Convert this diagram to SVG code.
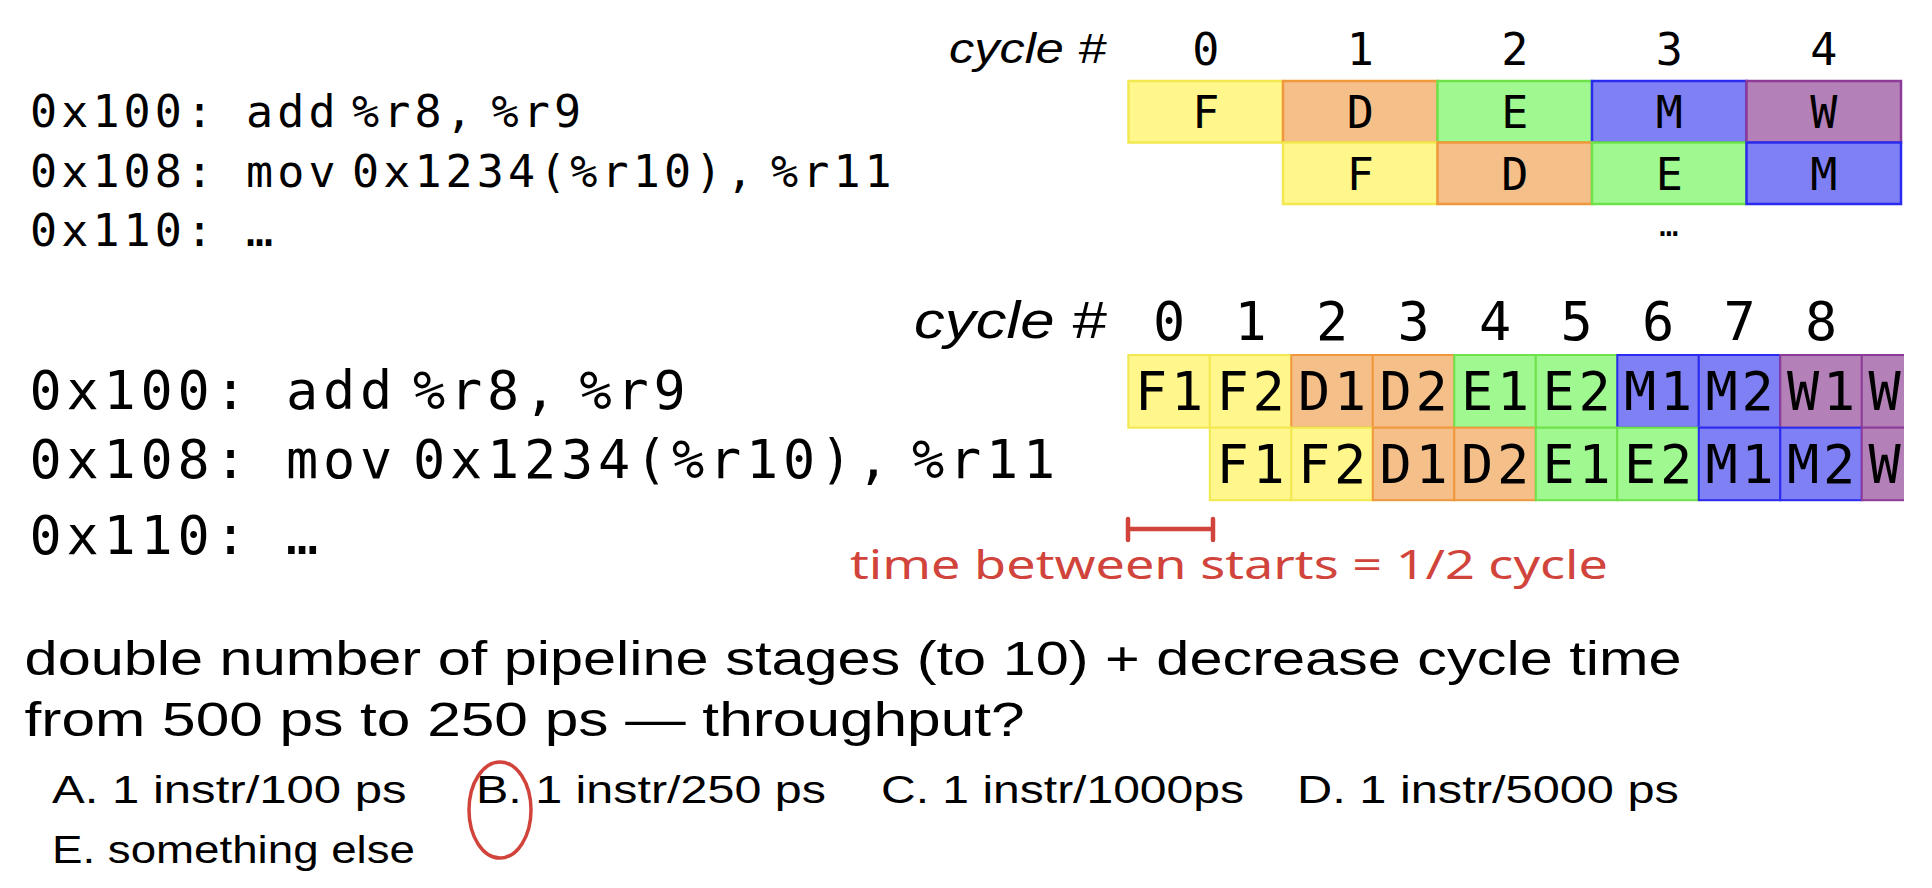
<svg xmlns="http://www.w3.org/2000/svg" width="1932" height="888" viewBox="0 0 1932 888">
<defs>
<style>
.mono{font-family:"DejaVu Sans Mono",monospace;fill:#000}
.mt{font-size:45px;letter-spacing:4.1px}
.mb{font-size:53.5px;letter-spacing:4.8px}
.num-t{font-size:45px;text-anchor:middle}
.num-b{font-size:53.5px;text-anchor:middle}
.cyc{font-family:"Liberation Sans",Arial,sans-serif;font-style:italic;fill:#000}
.sans{font-family:"Liberation Sans",Arial,sans-serif;fill:#000}
.box-t{stroke-width:2.5}
.box-b{stroke-width:2}
.Y{fill:#fff68c;stroke:#f2e850}
.O{fill:#f5bf8a;stroke:#f0983c}
.G{fill:#a0f890;stroke:#6de24a}
.B{fill:#8080f5;stroke:#2b2bf0}
.P{fill:#b480b8;stroke:#8c3c98}
.red{stroke:#d1443c;fill:none;stroke-linecap:round}
.redtxt{font-family:"Noto Sans","DejaVu Sans",sans-serif;fill:#d1443c}
</style>
<clipPath id="clipR"><rect x="0" y="0" width="1904" height="888"/></clipPath>
</defs>
<rect width="1932" height="888" fill="#fff"/>

<!-- top code -->
<g id="code-top" class="mono mt">
<text y="127"><tspan x="30">0x100:</tspan><tspan x="246">add</tspan><tspan x="352">%r8,</tspan><tspan x="491.5">%r9</tspan></text>
<text y="187"><tspan x="30">0x108:</tspan><tspan x="246">mov</tspan><tspan x="352">0x1234(%r10),</tspan><tspan x="771">%r11</tspan></text>
<text y="246"><tspan x="30">0x110:</tspan><tspan x="246">…</tspan></text>
</g>

<!-- top cycle header -->
<g id="header-top">
<text class="cyc" x="949" y="63" font-size="43" textLength="157" lengthAdjust="spacingAndGlyphs">cycle #</text>
<g class="mono num-t">
<text x="1205.75" y="65">0</text>
<text x="1360.25" y="65">1</text>
<text x="1514.75" y="65">2</text>
<text x="1669.25" y="65">3</text>
<text x="1823.75" y="65">4</text>
</g>
</g>

<!-- top pipeline rows -->
<g id="pipe-top-row1">
<rect class="box-t Y" x="1128.5" y="81" width="154.5" height="61.5"/>
<rect class="box-t O" x="1283" y="81" width="154.5" height="61.5"/>
<rect class="box-t G" x="1437.5" y="81" width="154.5" height="61.5"/>
<rect class="box-t B" x="1592" y="81" width="154.5" height="61.5"/>
<rect class="box-t P" x="1746.5" y="81" width="154.5" height="61.5"/>
<g class="mono num-t">
<text x="1205.75" y="128">F</text>
<text x="1360.25" y="128">D</text>
<text x="1514.75" y="128">E</text>
<text x="1669.25" y="128">M</text>
<text x="1823.75" y="128">W</text>
</g>
</g>
<g id="pipe-top-row2">
<rect class="box-t Y" x="1283" y="142.5" width="154.5" height="61.5"/>
<rect class="box-t O" x="1437.5" y="142.5" width="154.5" height="61.5"/>
<rect class="box-t G" x="1592" y="142.5" width="154.5" height="61.5"/>
<rect class="box-t B" x="1746.5" y="142.5" width="154.5" height="61.5"/>
<g class="mono num-t">
<text x="1360.25" y="189.5">F</text>
<text x="1514.75" y="189.5">D</text>
<text x="1669.25" y="189.5">E</text>
<text x="1823.75" y="189.5">M</text>
</g>
</g>
<text class="mono" x="1669" y="236" font-size="32" text-anchor="middle">…</text>

<!-- bottom code -->
<g id="code-bottom" class="mono mb">
<text y="409"><tspan x="29.5">0x100:</tspan><tspan x="286">add</tspan><tspan x="413">%r8,</tspan><tspan x="579.5">%r9</tspan></text>
<text y="478"><tspan x="29.5">0x108:</tspan><tspan x="286">mov</tspan><tspan x="413">0x1234(%r10),</tspan><tspan x="912">%r11</tspan></text>
<text y="554"><tspan x="29.5">0x110:</tspan><tspan x="286">…</tspan></text>
</g>

<!-- bottom cycle header -->
<g id="header-bottom">
<text class="cyc" x="914" y="338" font-size="52" textLength="192" lengthAdjust="spacingAndGlyphs">cycle #</text>
<g class="mono num-b">
<text x="1169" y="340">0</text>
<text x="1250.5" y="340">1</text>
<text x="1332" y="340">2</text>
<text x="1413.5" y="340">3</text>
<text x="1495" y="340">4</text>
<text x="1576.5" y="340">5</text>
<text x="1658" y="340">6</text>
<text x="1739.5" y="340">7</text>
<text x="1821" y="340">8</text>
</g>
</g>

<!-- bottom pipeline rows -->
<g id="pipe-bottom-row1">
<g clip-path="url(#clipR)">
<rect class="box-b Y" x="1128.3" y="355" width="81.5" height="72.7"/>
<rect class="box-b Y" x="1209.8" y="355" width="81.5" height="72.7"/>
<rect class="box-b O" x="1291.3" y="355" width="81.5" height="72.7"/>
<rect class="box-b O" x="1372.8" y="355" width="81.5" height="72.7"/>
<rect class="box-b G" x="1454.3" y="355" width="81.5" height="72.7"/>
<rect class="box-b G" x="1535.8" y="355" width="81.5" height="72.7"/>
<rect class="box-b B" x="1617.3" y="355" width="81.5" height="72.7"/>
<rect class="box-b B" x="1698.8" y="355" width="81.5" height="72.7"/>
<rect class="box-b P" x="1780.3" y="355" width="81.5" height="72.7"/>
<rect class="box-b P" x="1861.8" y="355" width="81.5" height="72.7"/>
</g>
<g class="mono num-b">
<text x="1151 1187" y="410">F1</text>
<text x="1232.5 1268.5" y="410">F2</text>
<text x="1314 1350" y="410">D1</text>
<text x="1395.5 1431.5" y="410">D2</text>
<text x="1477 1513" y="410">E1</text>
<text x="1558.5 1594.5" y="410">E2</text>
<text x="1640 1676" y="410">M1</text>
<text x="1721.5 1757.5" y="410">M2</text>
<text x="1803 1839" y="410">W1</text>
<text x="1884.5" y="410">W</text>
</g>
</g>
<g id="pipe-bottom-row2">
<g clip-path="url(#clipR)">
<rect class="box-b Y" x="1209.8" y="427.7" width="81.5" height="72.5"/>
<rect class="box-b Y" x="1291.3" y="427.7" width="81.5" height="72.5"/>
<rect class="box-b O" x="1372.8" y="427.7" width="81.5" height="72.5"/>
<rect class="box-b O" x="1454.3" y="427.7" width="81.5" height="72.5"/>
<rect class="box-b G" x="1535.8" y="427.7" width="81.5" height="72.5"/>
<rect class="box-b G" x="1617.3" y="427.7" width="81.5" height="72.5"/>
<rect class="box-b B" x="1698.8" y="427.7" width="81.5" height="72.5"/>
<rect class="box-b B" x="1780.3" y="427.7" width="81.5" height="72.5"/>
<rect class="box-b P" x="1861.8" y="427.7" width="81.5" height="72.5"/>
</g>
<g class="mono num-b">
<text x="1232.5 1268.5" y="483">F1</text>
<text x="1314 1350" y="483">F2</text>
<text x="1395.5 1431.5" y="483">D1</text>
<text x="1477 1513" y="483">D2</text>
<text x="1558.5 1594.5" y="483">E1</text>
<text x="1640 1676" y="483">E2</text>
<text x="1721.5 1757.5" y="483">M1</text>
<text x="1803 1839" y="483">M2</text>
<text x="1884.5" y="483">W</text>
</g>
</g>

<!-- annotation -->
<g id="connectors">
<path class="red" stroke-width="4.5" d="M1128,529 H1213 M1128,519 V540 M1213,519 V540"/>
</g>
<g id="annotation">
<text class="redtxt" x="850" y="579" font-size="40" textLength="758" lengthAdjust="spacingAndGlyphs">time between starts = 1/2 cycle</text>
<ellipse class="red" cx="500" cy="810" rx="31" ry="48" stroke-width="3.5"/>
</g>

<!-- question -->
<g id="question" class="sans">
<text x="24.6" y="675" font-size="48" textLength="1657" lengthAdjust="spacingAndGlyphs">double number of pipeline stages (to 10) + decrease cycle time</text>
<text x="24.6" y="735.5" font-size="48" textLength="1000" lengthAdjust="spacingAndGlyphs">from 500 ps to 250 ps — throughput?</text>
<text x="52" y="803" font-size="38" textLength="354.6" lengthAdjust="spacingAndGlyphs">A. 1 instr/100 ps</text>
<text x="476" y="803" font-size="38" textLength="350" lengthAdjust="spacingAndGlyphs">B. 1 instr/250 ps</text>
<text x="881" y="803" font-size="38" textLength="363" lengthAdjust="spacingAndGlyphs">C. 1 instr/1000ps</text>
<text x="1297" y="803" font-size="38" textLength="382" lengthAdjust="spacingAndGlyphs">D. 1 instr/5000 ps</text>
<text x="52" y="862.5" font-size="38" textLength="363" lengthAdjust="spacingAndGlyphs">E. something else</text>
</g>
</svg>
